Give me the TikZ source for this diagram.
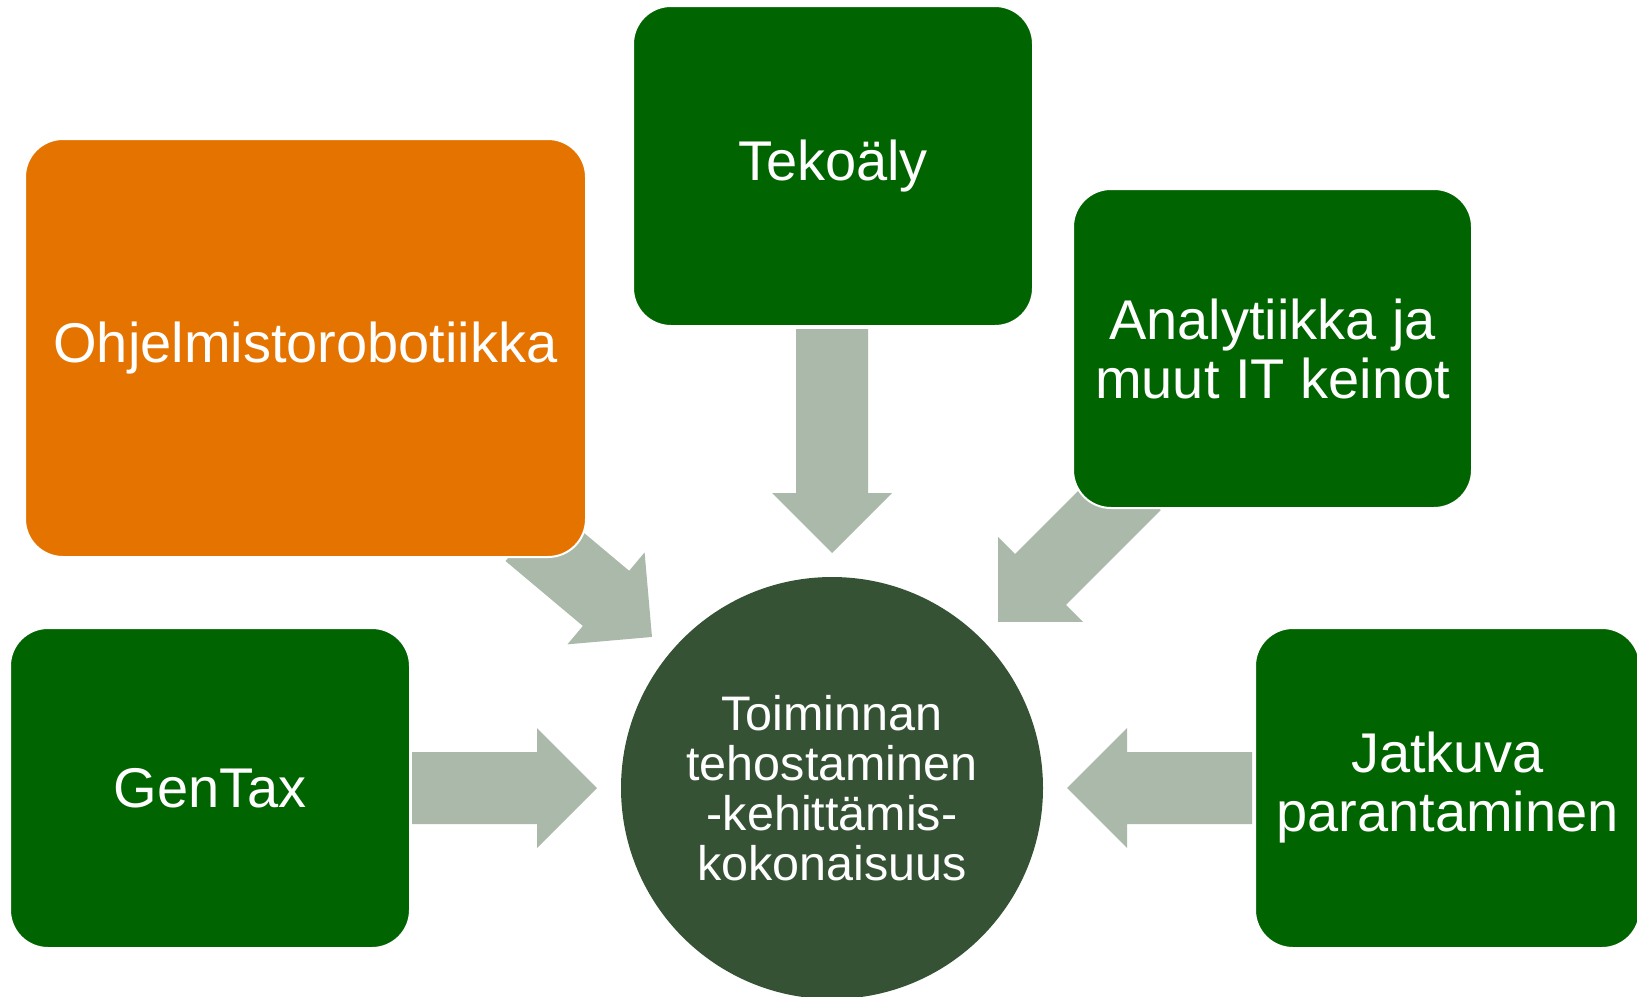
\documentclass[tikz,border=0pt]{standalone}
\usepackage{fontspec}
\setmainfont{Liberation Sans}
\usetikzlibrary{positioning}

\definecolor{boxgreen}{RGB}{0,100,0}
\definecolor{boxorange}{RGB}{229,115,0}
\definecolor{hubgreen}{RGB}{53,82,52}
\definecolor{arrowgray}{RGB}{170,185,169}

\tikzset{
    card/.style={draw=white, line width=2pt, fill=boxgreen, rounded corners=38pt,
        text=white, align=center, font=\fontsize{56}{59}\selectfont},
    hubnode/.style={circle, fill=hubgreen, minimum size=422pt, inner sep=0pt,
        text=white, align=center, font=\fontsize{48.5}{50}\selectfont},
    blockarrow/.style={fill=arrowgray}
}

\begin{document}
\begin{tikzpicture}[x=1pt,y=1pt]
% Parameters
\def\tipdist{235}
\def\shaftw{36}
\def\headw{60}
\def\headlen{60}

\useasboundingbox (0,0) rectangle (1637,-996);

% Centre circle
\node[hubnode] (hub) at (832,-788) {Toiminnan\\tehostaminen\\-kehittämis-\\kokonaisuus};

% Block arrows pointing to the centre (angle/length)
\foreach \ang/\len in {90/224, 140/161, 45/194, 180/185, 0/185} {
    \begin{scope}[shift={(hub.center)}, rotate=\ang]
        \fill[blockarrow] (\tipdist,0) -- ++(\headlen,\headw) -- ++(0,-\headw+\shaftw)
            -- (\tipdist+\len,\shaftw) -- (\tipdist+\len,-\shaftw)
            -- (\tipdist+\headlen,-\shaftw) -- (\tipdist+\headlen,-\headw) -- cycle;
    \end{scope}
}

% Boxes
\node[card, fill=boxorange, minimum width=561pt, minimum height=418pt] (robo) at (305.5,-348) {Ohjelmistorobotiikka};
\node[card, minimum width=400pt, minimum height=320pt] (ai) at (833,-166) {Tekoäly};
\node[card, minimum width=399pt, minimum height=319pt] (analytics) at (1272.5,-348.5) {Analytiikka ja\\muut IT keinot};
\node[card, minimum width=400pt, minimum height=320pt] (gentax) at (210,-788) {GenTax};
\node[card, minimum width=385pt, minimum height=320pt] (improve) at (1447.5,-788) {Jatkuva\\parantaminen};
\end{tikzpicture}
\end{document}
